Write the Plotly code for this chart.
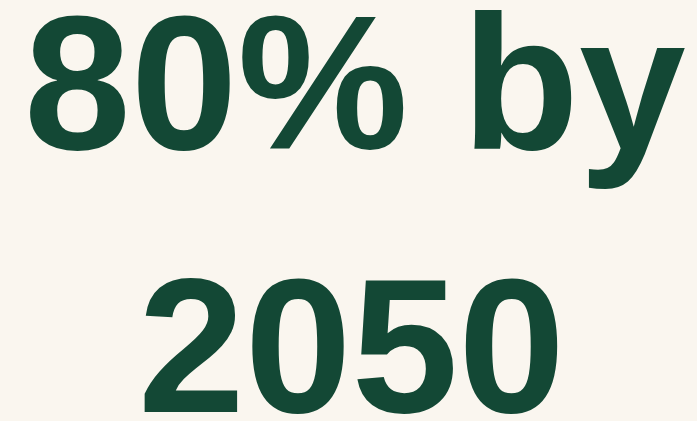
import plotly.graph_objects as go

headline_lines = ["80% by", "2050"]
line_x = [0.509, 0.505]
line_y = [0.805, 0.179]
text_color = "#134835"
bg_color = "#FAF6EF"

fig = go.Figure()
for txt, xx, yy in zip(headline_lines, line_x, line_y):
    fig.add_annotation(
        text=txt,
        xref="paper", yref="paper", x=xx, y=yy,
        xanchor="center", yanchor="middle",
        showarrow=False,
        font=dict(family="Liberation Sans, Arial, sans-serif", size=192, color=text_color, weight="bold"),
        align="center",
    )
fig.update_layout(
    width=697, height=421,
    margin=dict(l=0, r=0, t=0, b=0),
    paper_bgcolor=bg_color, plot_bgcolor=bg_color,
    xaxis=dict(visible=False), yaxis=dict(visible=False),
    showlegend=False,
)
fig.write_html(
    "out.html",
    config={"displayModeBar": False},
    post_script="document.body.style.margin='0';document.body.style.background='%s';" % bg_color,
)
